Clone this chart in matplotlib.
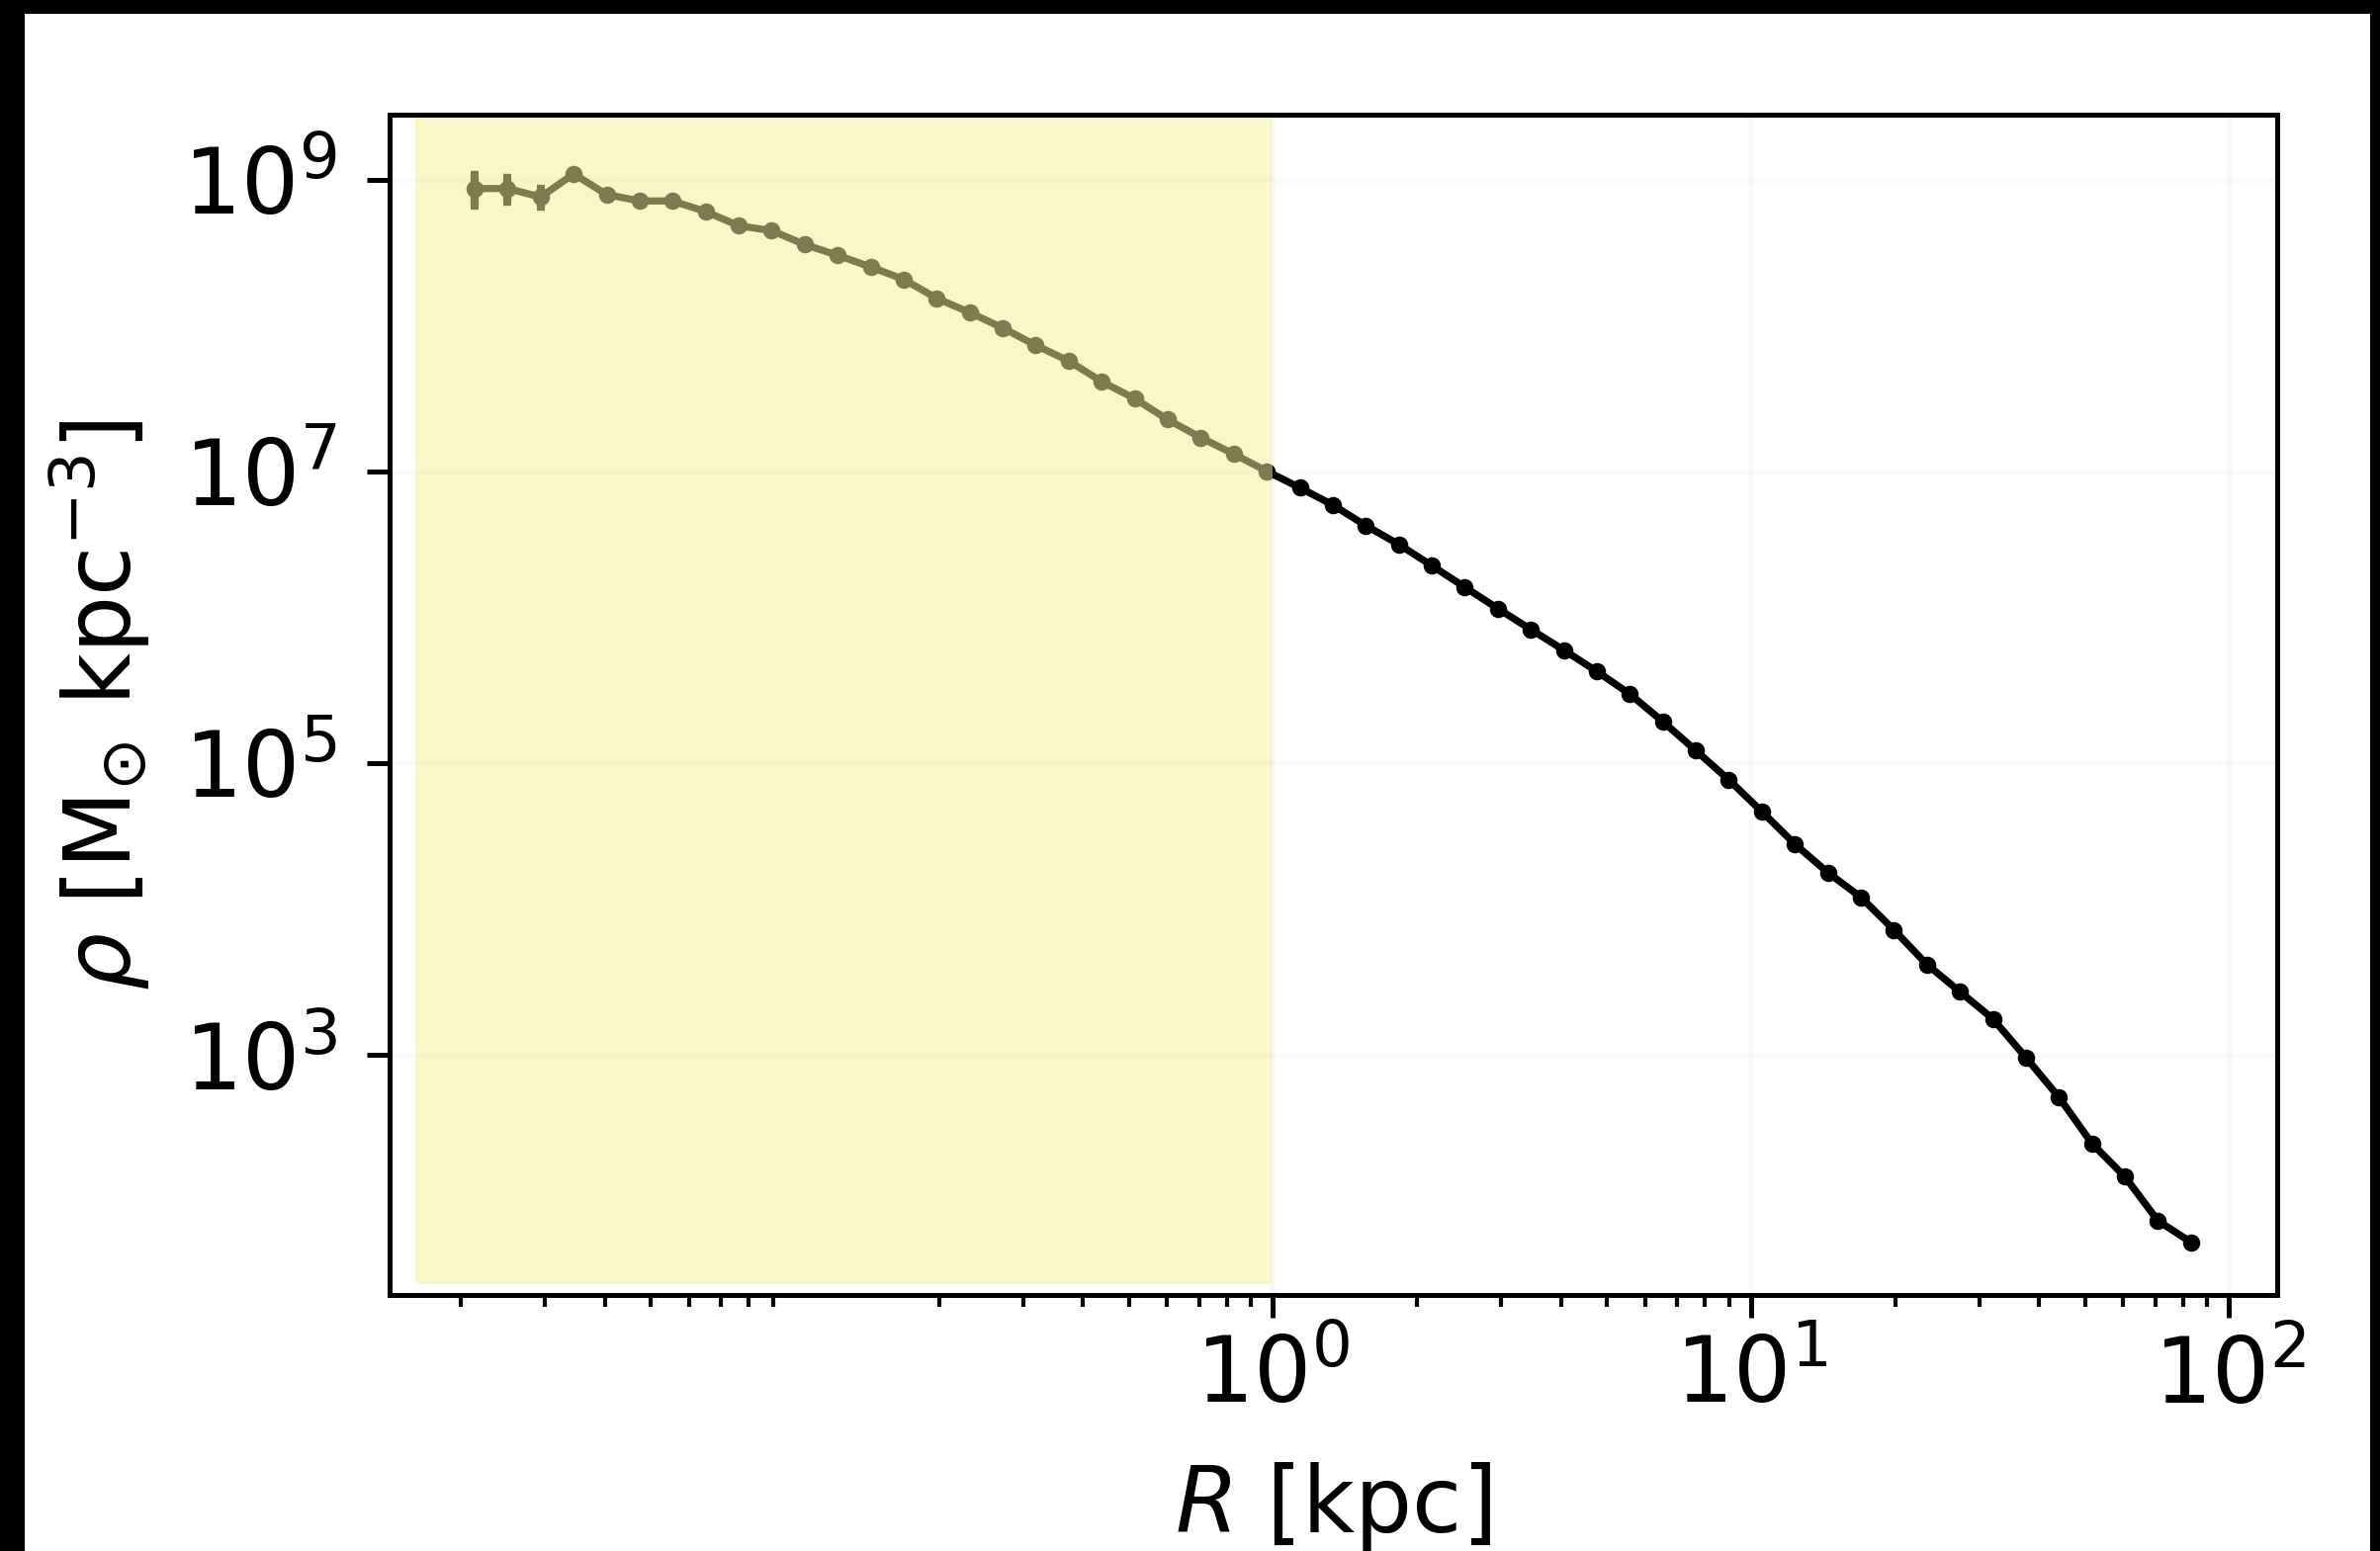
import matplotlib

matplotlib.use("Agg")

import matplotlib.pyplot as plt
from matplotlib.patches import Rectangle
from matplotlib.ticker import NullLocator

W_PX, H_PX, DPI = 2407, 1569, 300

# radius of each bin [kpc]
radius = [
    0.02138, 0.02506, 0.02938, 0.03444, 0.04038, 0.04733, 0.05548, 0.06504, 0.07624, 0.08937,
    0.1048, 0.1228, 0.1440, 0.1688, 0.1979, 0.2320, 0.2720, 0.3188, 0.3738, 0.4382,
    0.5137, 0.6022, 0.7060, 0.8277, 0.9705, 1.138, 1.334, 1.563, 1.833, 2.149,
    2.519, 2.953, 3.462, 4.058, 4.758, 5.578, 6.538, 7.665, 8.985, 10.53,
    12.35, 14.48, 16.97, 19.90, 23.33, 27.35, 32.05, 37.58, 44.05, 51.64,
    60.53, 70.96, 83.21,
]

# density [Msun kpc^-3]
density = [
    8.69e8, 8.69e8, 7.60e8, 1.094e9, 7.91e8, 7.14e8, 7.14e8, 6.04e8, 4.83e8, 4.47e8,
    3.59e8, 3.03e8, 2.52e8, 2.07e8, 1.535e8, 1.227e8, 9.62e7, 7.31e7, 5.71e7, 4.12e7,
    3.15e7, 2.26e7, 1.702e7, 1.312e7, 1.00e7, 7.71e6, 5.87e6, 4.24e6, 3.15e6, 2.25e6,
    1.603e6, 1.143e6, 8.22e5, 5.93e5, 4.24e5, 2.96e5, 1.919e5, 1.213e5, 7.64e4, 4.63e4,
    2.77e4, 1.766e4, 1.197e4, 7.14e3, 4.14e3, 2.69e3, 1.754e3, 951, 509, 245,
    145, 72.3, 51.5,
]

# poisson errors, only visible in the innermost bins
density_err = [2.1e8, 1.6e8, 1.1e8] + [0.0] * (len(density) - 3)

# unresolved region (shaded)
shade_r = [0.01606, 1.0]
shade_rho = [26.6, 2.66e9]

xlim = (0.01416, 126.0)
ylim = (22.4, 2.79e9)
xticks = [1, 10, 100]
yticks = [1e3, 1e5, 1e7, 1e9]


def main() -> None:
    fig = plt.figure(figsize=(W_PX / DPI, H_PX / DPI), dpi=DPI)
    fig.patch.set_facecolor("black")
    fig.add_artist(Rectangle((25 / W_PX, 0), 2372 / W_PX, 1555 / H_PX, transform=fig.transFigure,
                             facecolor="white", edgecolor="none", zorder=0))

    ax = fig.add_axes([393.5 / W_PX, 1 - 1310 / H_PX, 1909.5 / W_PX, 1194 / H_PX])
    ax.set_xscale("log")
    ax.set_yscale("log")

    ax.errorbar(radius, density, yerr=density_err, fmt="-o", color="black", lw=1.75, ms=3.2,
                elinewidth=2.0, capsize=1.0, capthick=2.0, zorder=2)
    ax.fill_between(shade_r, shade_rho[0], shade_rho[1], color="#f4ee9b", alpha=0.52, lw=0, zorder=3)

    ax.set_xlim(*xlim)
    ax.set_ylim(*ylim)
    ax.set_xticks(xticks)
    ax.set_yticks(yticks)
    ax.yaxis.set_minor_locator(NullLocator())
    ax.grid(True, which="major", color="gray", alpha=0.045, lw=1.2, zorder=1)

    for spine in ax.spines.values():
        spine.set_linewidth(1.2)
    ax.tick_params(which="major", length=5.6, width=1.2, labelsize=22)
    ax.tick_params(which="minor", length=2.9, width=1.0)
    ax.tick_params(axis="y", which="major", pad=7)
    ax.tick_params(axis="x", which="major", pad=3.5)

    ax.set_xlabel(r"$R$ [kpc]", fontsize=22)
    ax.set_ylabel(r"$\rho$ [M$_{\odot}$ kpc$^{-3}$]", fontsize=22)
    ax.xaxis.set_label_coords(0.5, -0.140)
    ax.yaxis.set_label_coords(-0.126, 0.5)

    fig.savefig("out.png", dpi=DPI, facecolor=fig.get_facecolor())
    plt.close(fig)


if __name__ == "__main__":
    main()
